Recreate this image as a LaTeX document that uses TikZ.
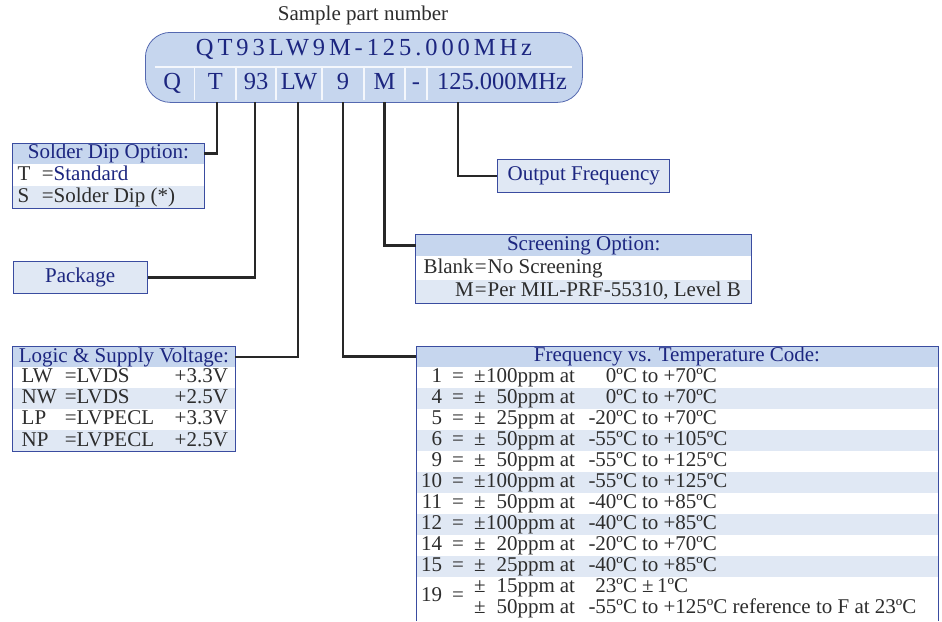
\documentclass[tikz,border=0pt]{standalone}
\usepackage{fontspec}
\setmainfont{Liberation Serif}
\usetikzlibrary{positioning, calc}
\definecolor{headblue}{RGB}{198, 214, 238}
\definecolor{rowblue}{RGB}{224, 232, 244}
\definecolor{edgeblue}{RGB}{58, 76, 160}
\definecolor{pnedge}{RGB}{84, 104, 176}
\definecolor{titleblue}{RGB}{28, 38, 128}
\definecolor{inkgray}{RGB}{45, 45, 45}
\definecolor{wiregray}{RGB}{40, 40, 40}

% righe delle tabelle (colonne a larghezza fissa)
\newcommand{\sdrow}[2]{\makebox[191.3pt][l]{\hspace*{5pt}\makebox[24pt][l]{#1}\makebox[12pt]{=}#2}}
\newcommand{\lgrow}[3]{\makebox[222.3pt][l]{\hspace*{9pt}\makebox[43pt][l]{#1}\makebox[12pt]{=}\makebox[151.3pt][s]{#2\hfill#3}}}
\newcommand{\scrow}[2]{\makebox[336pt][l]{\makebox[58pt][r]{#1}\makebox[14pt]{=}#2}}
\newcommand{\fqval}[3]{\makebox[12pt]{±}\makebox[69pt][r]{#1}\makebox[20pt][r]{at}\makebox[62pt][r]{#2}\hspace{5pt}#3}
\newcommand{\fqrow}[4]{\makebox[522pt][l]{\makebox[26pt][r]{#1}\makebox[32pt]{=}\fqval{#2}{#3}{#4}}}

\begin{document}
\begin{tikzpicture}[
  x=1pt, y=-1pt,
  every node/.style={font=\fontsize{21}{21}\selectfont, text=inkgray},
  pncell/.style={
    inner sep=0pt, outer sep=0pt, minimum height=33pt,
    text height=17pt, text depth=5pt,
    font=\fontsize{24.5}{25}\selectfont, text=titleblue
  },
  cellsep/.style={draw=white!80!headblue, line width=1.6pt},
  tabhead/.style={
    fill=headblue, text=titleblue, inner sep=0pt, outer sep=0pt,
    text height=15pt, text depth=5pt
  },
  tabrow/.style={inner sep=0pt, outer sep=0pt, text height=15pt, text depth=5pt},
  tabframe/.style={draw=edgeblue, line width=0.9pt},
  tagbox/.style={
    draw=edgeblue, line width=0.9pt, fill=rowblue, text=titleblue,
    inner sep=0pt, anchor=north west
  },
  wire/.style={draw=wiregray, line width=2.4pt, shorten <=2pt}
]
  \useasboundingbox (0,0) rectangle (942,621);

  % Codice di esempio
  \node (pntitle) at (363,15) {Sample part number};
  \node[draw=pnedge, line width=0.8pt, fill=headblue, rounded corners=25pt,
    minimum width=437pt, minimum height=70pt, inner sep=0pt, anchor=north west] (pnbox) at (145,32) {};
  \node[font=\fontsize{24.5}{25}\selectfont\addfontfeature{LetterSpace=16}, text=titleblue] (pncode) at (364,49) {QT93LW9M-125.000MHz};

  \node[pncell, minimum width=44.5pt, anchor=north west] (cQ) at (150,67) {Q};
  \node[pncell, minimum width=41.5pt, right=0pt of cQ] (cT) {T};
  \node[pncell, minimum width=40pt, right=0pt of cT] (c93) {93};
  \node[pncell, minimum width=46pt, right=0pt of c93] (cLW) {LW};
  \node[pncell, minimum width=42pt, right=0pt of cLW] (c9) {9};
  \node[pncell, minimum width=41pt, right=0pt of c9] (cM) {M};
  \node[pncell, minimum width=22pt, right=0pt of cM] (cD) {-};
  \node[pncell, minimum width=150pt, right=0pt of cD] (cF) {125.000MHz};

  \draw[cellsep] ($(cQ.north west)+(5,0)$) -- ($(cF.north east)+(-5,0)$);
  \draw[cellsep] (cQ.north east) -- (cQ.south east);
  \draw[cellsep] (cT.north east) -- (cT.south east);
  \draw[cellsep] (c93.north east) -- (c93.south east);
  \draw[cellsep] (cLW.north east) -- (cLW.south east);
  \draw[cellsep] (c9.north east) -- (c9.south east);
  \draw[cellsep] (cM.north east) -- (cM.south east);
  \draw[cellsep] (cD.north east) -- (cD.south east);

  % Solder dip
  \node[tabhead, minimum width=191.3pt, minimum height=21pt, anchor=north west] (sdhead) at (12.7,143) {Solder Dip Option:};
  \node[tabrow, minimum height=22pt, below=0pt of sdhead] (sdT) {\sdrow{T}{\textcolor{titleblue}{Standard}}};
  \node[tabrow, fill=rowblue, minimum height=22pt, below=0pt of sdT] (sdS) {\sdrow{S}{Solder Dip (*)}};
  \draw[tabframe] (sdhead.north west) rectangle (sdS.south east);

  % Package e frequenza di uscita
  \node[tagbox, minimum width=134pt, minimum height=32.6pt] (pkg) at (12.7,260.7) {Package};
  \node[tagbox, minimum width=172pt, minimum height=32.4pt] (outf) at (497.3,159.3) {Output Frequency};

  % Logica e alimentazione
  \node[tabhead, minimum width=222.3pt, minimum height=20pt, text height=16pt, text depth=4pt,
    anchor=north west] (lghead) at (12.7,346.7) {Logic \& Supply Voltage:};
  \node[tabrow, minimum height=21.25pt, below=0pt of lghead] (lgLW) {\lgrow{LW}{LVDS}{+3.3V}};
  \node[tabrow, fill=rowblue, minimum height=21.25pt, below=0pt of lgLW] (lgNW) {\lgrow{NW}{LVDS}{+2.5V}};
  \node[tabrow, minimum height=21.25pt, below=0pt of lgNW] (lgLP) {\lgrow{LP}{LVPECL}{+3.3V}};
  \node[tabrow, fill=rowblue, minimum height=21.25pt, below=0pt of lgLP] (lgNP) {\lgrow{NP}{LVPECL}{+2.5V}};
  \draw[tabframe] (lghead.north west) rectangle (lgNP.south east);

  % Screening
  \node[tabhead, minimum width=336pt, minimum height=22pt, anchor=north west] (schead) at (415.7,234.3) {Screening Option:};
  \node[tabrow, minimum height=23.5pt, below=0pt of schead] (scB) {\scrow{Blank}{No Screening}};
  \node[tabrow, fill=rowblue, minimum height=23.5pt, below=0pt of scB] (scM) {\scrow{M}{Per MIL-PRF-55310, Level B}};
  \draw[tabframe] (schead.north west) rectangle (scM.south east);

  % Frequenza vs. temperatura
  \node[tabhead, minimum width=522pt, minimum height=21pt, anchor=north west] (fqhead) at (416,346) {Frequency vs. Temperature Code:};
  \node[tabrow, minimum height=21pt, below=0pt of fqhead] (fq1) {\fqrow{1}{100ppm}{0ºC}{to +70ºC}};
  \node[tabrow, fill=rowblue, minimum height=21pt, below=0pt of fq1] (fq4) {\fqrow{4}{50ppm}{0ºC}{to +70ºC}};
  \node[tabrow, minimum height=21pt, below=0pt of fq4] (fq5) {\fqrow{5}{25ppm}{-20ºC}{to +70ºC}};
  \node[tabrow, fill=rowblue, minimum height=21pt, below=0pt of fq5] (fq6) {\fqrow{6}{50ppm}{-55ºC}{to +105ºC}};
  \node[tabrow, minimum height=21pt, below=0pt of fq6] (fq9) {\fqrow{9}{50ppm}{-55ºC}{to +125ºC}};
  \node[tabrow, fill=rowblue, minimum height=21pt, below=0pt of fq9] (fq10) {\fqrow{10}{100ppm}{-55ºC}{to +125ºC}};
  \node[tabrow, minimum height=21pt, below=0pt of fq10] (fq11) {\fqrow{11}{50ppm}{-40ºC}{to +85ºC}};
  \node[tabrow, fill=rowblue, minimum height=21pt, below=0pt of fq11] (fq12) {\fqrow{12}{100ppm}{-40ºC}{to +85ºC}};
  \node[tabrow, minimum height=21pt, below=0pt of fq12] (fq14) {\fqrow{14}{20ppm}{-20ºC}{to +70ºC}};
  \node[tabrow, fill=rowblue, minimum height=21pt, below=0pt of fq14] (fq15) {\fqrow{15}{25ppm}{-40ºC}{to +85ºC}};
  \node[inner sep=0pt, outer sep=0pt, minimum height=44pt, below=0pt of fq15] (fq19) {%
    \makebox[522pt][l]{\makebox[26pt][r]{19}\makebox[32pt]{=}\raisebox{-3pt}{\begin{tabular}{@{}l@{}}
      \fqval{15ppm}{23ºC}{±\,1ºC}\\
      \fqval{50ppm}{-55ºC}{to +125ºC reference to F at 23ºC}
    \end{tabular}}}};
  \draw[tabframe] (fq19.south west) -- (fqhead.north west) -- (fqhead.north east) -- (fq19.south east);

  % Collegamenti
  \draw[wire] ([xshift=1.5pt]cT.south) |- (sdhead.east);
  \draw[wire] ([xshift=-1pt]c93.south) |- (pkg.east);
  \draw[wire] ([xshift=-1pt]cLW.south) |- (lghead.east);
  \draw[wire] (c9.south) |- (fqhead.west);
  \draw[wire] (cM.south) |- (schead.west);
  \draw[wire] ([xshift=31pt]cF.south west) |- (outf.west);

\end{tikzpicture}
\end{document}
